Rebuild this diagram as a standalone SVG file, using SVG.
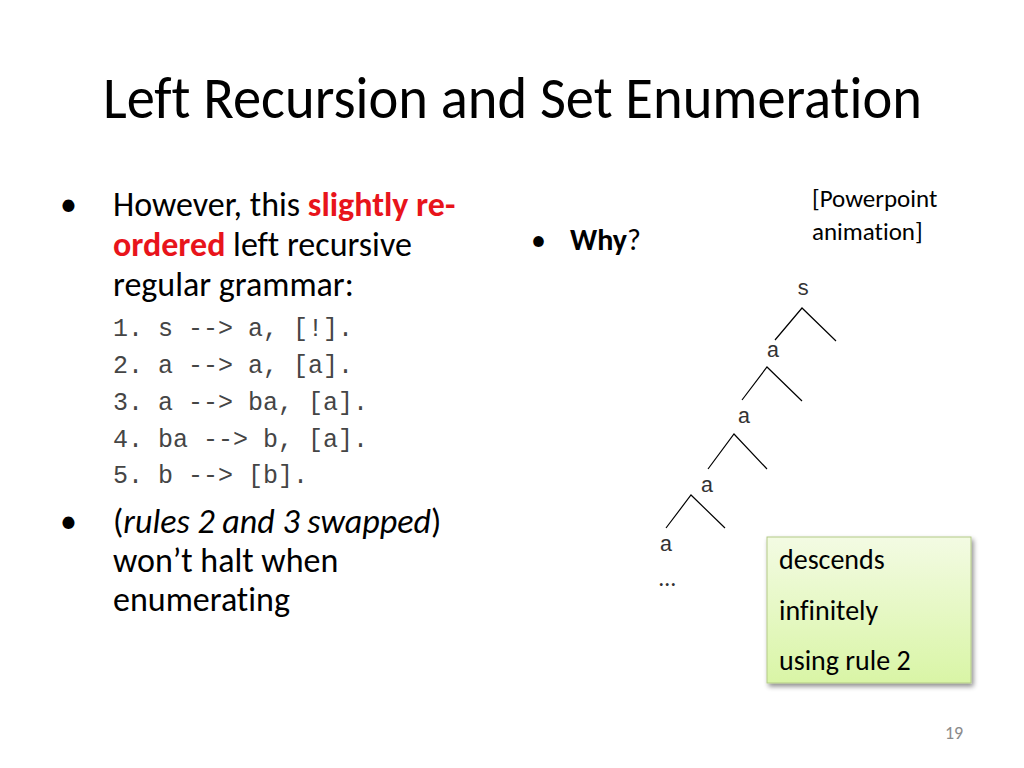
<svg xmlns="http://www.w3.org/2000/svg" width="1024" height="768" viewBox="0 0 1024 768">
<style>
.sans{font-family:Carlito,"Liberation Sans",Arial,sans-serif;fill:#000;font-variant-ligatures:none}
.mono{font-family:"Liberation Mono","Courier New",monospace;fill:#454545}
.tree{font-family:"Liberation Mono","Courier New",monospace;fill:#333;font-size:22px;text-anchor:middle}
.red{fill:#e8141b;font-weight:bold}
.edge{stroke:#000;stroke-width:1.2;fill:none}
.gray{fill:#8b8b8b}
.dark{fill:#333}
</style>
<defs>
<linearGradient id="g" x1="0" y1="0" x2="0" y2="1">
<stop offset="0" stop-color="#f3fbe3"/>
<stop offset="1" stop-color="#d9f5a6"/>
</linearGradient>
<filter id="sh" x="-10%" y="-10%" width="130%" height="130%">
<feGaussianBlur in="SourceAlpha" stdDeviation="2.5"/>
<feOffset dx="2" dy="3"/>
<feComponentTransfer><feFuncA type="linear" slope="0.45"/></feComponentTransfer>
<feMerge><feMergeNode/><feMergeNode in="SourceGraphic"/></feMerge>
</filter>
</defs>
<rect width="1024" height="768" fill="#fff"/>
<g id="title"><text class="sans" x="103" y="118" font-size="59" textLength="819" lengthAdjust="spacingAndGlyphs">Left Recursion and Set Enumeration</text></g>
<g id="left-text">
<text class="sans" x="60" y="216" font-size="34">•</text>
<text class="sans" x="113" y="216" font-size="34">However, this <tspan class="red">slightly re-</tspan></text>
<text class="sans" x="113" y="256" font-size="34"><tspan class="red">ordered</tspan> left recursive</text>
<text class="sans" x="113" y="296" font-size="34">regular grammar:</text>
<text class="mono" x="113" y="336" font-size="25">1. s --&gt; a, [!].</text>
<text class="mono" x="113" y="373" font-size="25">2. a --&gt; a, [a].</text>
<text class="mono" x="113" y="410" font-size="25">3. a --&gt; ba, [a].</text>
<text class="mono" x="113" y="447" font-size="25">4. ba --&gt; b, [a].</text>
<text class="mono" x="113" y="483" font-size="25">5. b --&gt; [b].</text>
<text class="sans" x="60" y="533" font-size="34">•</text>
<text class="sans" x="113" y="533" font-size="34">(<tspan font-style="italic">rules 2 and 3 swapped</tspan>)</text>
<text class="sans" x="113" y="572" font-size="34">won’t halt when</text>
<text class="sans" x="113" y="611" font-size="34">enumerating</text>
</g>
<g id="why">
<text class="sans" x="531" y="250" font-size="30">•</text>
<text class="sans" x="570" y="250" font-size="30"><tspan font-weight="bold">Why</tspan>?</text>
</g>
<g id="note">
<text class="sans" x="812" y="207" font-size="25">[Powerpoint</text>
<text class="sans" x="812" y="240" font-size="25">animation]</text>
</g>
<g id="tree-nodes">
<g id="n-s"><text class="tree" x="803" y="295">s</text></g>
<g id="n-a1"><text class="tree" x="773" y="357">a</text></g>
<g id="n-a2"><text class="tree" x="744" y="423">a</text></g>
<g id="n-a3"><text class="tree" x="707" y="492">a</text></g>
<g id="n-a4"><text class="tree" x="666" y="551">a</text></g>
<g id="n-more"><text class="sans dark" x="659" y="586" font-size="24">…</text></g>
</g>
<g id="connectors">
<path class="edge" d="M775,340 L802,308 L836,341"/>
<path class="edge" d="M742,400 L767,367 L802,401"/>
<path class="edge" d="M708,469 L734,434 L767,469"/>
<path class="edge" d="M666,528 L691,495 L725,528"/>
</g>
<g id="callout">
<rect x="767" y="537" width="204" height="146" fill="url(#g)" stroke="#b3c987" stroke-width="1" filter="url(#sh)"/>
<text class="sans" x="779" y="569" font-size="28">descends</text>
<text class="sans" x="779" y="620" font-size="28">infinitely</text>
<text class="sans" x="779" y="670" font-size="28">using rule 2</text>
</g>
<g id="page"><text class="sans gray" x="945" y="739" font-size="18">19</text></g>
</svg>
